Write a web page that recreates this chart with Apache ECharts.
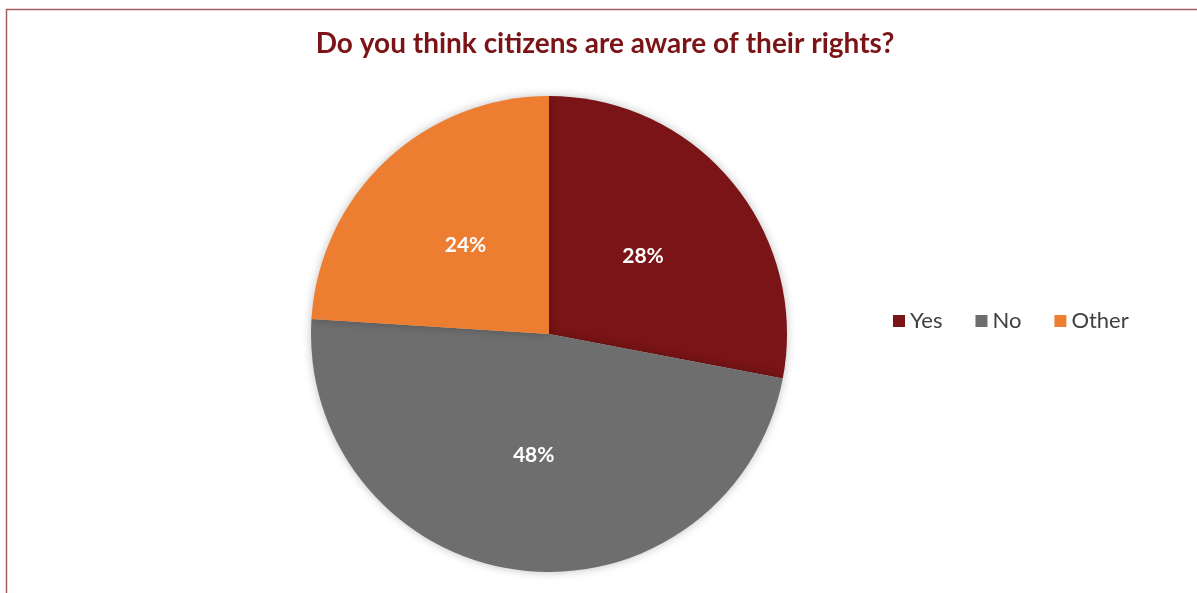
<!DOCTYPE html>
<html><head><meta charset="utf-8">
<script src="https://cdn.jsdelivr.net/npm/echarts@6/dist/echarts.min.js"></script>
<style>html,body{margin:0;padding:0;background:#fff;}#c{width:1197px;height:593px;}</style>
</head><body><div id="c"></div>
<script>
const categories = ['Yes', 'No', 'Other'];
const values = [28, 48, 24];
const colors = ['#7A1416', '#6E6E6E', '#ED7D31'];
const titleText = 'Do you think citizens are aware of their rights?';

const chart = echarts.init(document.getElementById('c'));
chart.setOption({
  backgroundColor: '#fff',
  animation: false,
  graphic: [{
    type: 'rect', silent: true,
    shape: {x: 6.5, y: 9.5, width: 1300, height: 700},
    style: {fill: 'none', stroke: '#A45E5E', lineWidth: 1.5}
  }],
  title: {
    text: titleText, left: 605, top: 30, textAlign: 'center', padding: 0,
    textStyle: {fontFamily: 'Lato', fontWeight: 'bold', fontSize: 28, color: '#7A1416'}
  },
  legend: {
    data: categories,
    left: 893, top: 310, padding: 0, itemWidth: 12, itemHeight: 12, itemGap: 33,
    icon: 'rect',
    textStyle: {fontFamily: 'Lato', fontSize: 22, color: '#404040'}
  },
  series: [{
    type: 'pie', center: [549, 334], radius: 238, startAngle: 90, clockwise: true,
    data: categories.map((c, i) => ({name: c, value: values[i], itemStyle: {color: colors[i]}})),
    label: {position: 'inside', formatter: '{c}%', fontFamily: 'Lato', fontWeight: 'bold', fontSize: 21, color: '#fff'},
    labelLine: {show: false},
    itemStyle: {borderColor: '#fff', borderWidth: 0, shadowBlur: 10, shadowColor: 'rgba(0,0,0,0.25)'},
    emphasis: {disabled: true}
  }]
});
</script></body></html>
